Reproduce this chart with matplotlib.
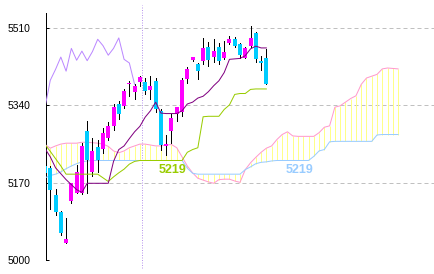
import matplotlib
matplotlib.use('Agg')
import matplotlib.pyplot as plt

# daily candles
opens = [5206, 5203, 5144, 5106, 5038, 5131, 5147, 5147, 5284, 5193,
         5248, 5245, 5269, 5295, 5342, 5338, 5386, 5369, 5391, 5391,
         5373, 5393, 5328, 5250, 5284, 5322, 5325, 5397, 5439, 5430,
         5437, 5468, 5447, 5468, 5443, 5476, 5485, 5474, 5444, 5470,
         5499, 5438, 5443]
highs = [5209, 5207, 5157, 5108, 5093, 5170, 5210, 5258, 5305, 5269,
         5265, 5291, 5304, 5342, 5349, 5375, 5394, 5386, 5405, 5401,
         5405, 5401, 5331, 5276, 5320, 5337, 5399, 5425, 5447, 5434,
         5488, 5478, 5485, 5477, 5481, 5492, 5491, 5476, 5469, 5514,
         5502, 5448, 5463]
lows = [5187, 5113, 5100, 5056, 5038, 5126, 5147, 5146, 5148, 5184,
        5193, 5236, 5265, 5287, 5309, 5335, 5361, 5353, 5382, 5366,
        5353, 5326, 5243, 5232, 5258, 5305, 5317, 5390, 5438, 5397,
        5430, 5426, 5435, 5430, 5441, 5474, 5469, 5445, 5444, 5467,
        5436, 5417, 5386]
closes = [5191, 5155, 5107, 5060, 5047, 5169, 5194, 5251, 5221, 5239,
          5219, 5280, 5295, 5336, 5322, 5371, 5389, 5382, 5402, 5371,
          5382, 5331, 5254, 5256, 5313, 5336, 5395, 5419, 5446, 5415,
          5465, 5439, 5459, 5438, 5458, 5485, 5471, 5450, 5465, 5488,
          5441, 5433, 5386]

# ichimoku lines
tenkan = [5245, 5227, 5203, 5190, 5177, 5166, 5155, 5149, 5169, 5169,
          5169, 5169, 5169, 5217, 5243, 5251, 5267, 5282, 5294, 5314,
          5328, 5347, 5323, 5322, 5322, 5322, 5328, 5343, 5347, 5356,
          5360, 5370, 5383, 5394, 5412, 5441, 5442, 5443, 5449, 5464,
          5470, 5466, 5466]
kijun = [5254, 5239, 5223, 5207, 5189, 5189, 5189, 5189, 5189, 5189,
         5189, 5181, 5173, 5183, 5192, 5200, 5211, 5217, 5219, 5219,
         5219, 5219, 5219, 5219, 5219, 5219, 5219, 5237, 5243, 5247,
         5315, 5316, 5316, 5316, 5331, 5341, 5364, 5366, 5366, 5375,
         5376, 5376, 5376]
span_a = [5254, 5246, 5251, 5255, 5257, 5257, 5257, 5259, 5259, 5258,
          5257, 5255, 5250, 5240, 5236, 5240, 5247, 5251, 5255, 5255,
          5253, 5251, 5251, 5253, 5254, 5247, 5227, 5207, 5192, 5180,
          5176, 5172, 5169, 5177, 5178, 5178, 5174, 5171, 5199, 5214,
          5226, 5237, 5246, 5251, 5265, 5276, 5282, 5273, 5272, 5272,
          5272, 5272, 5280, 5292, 5295, 5336, 5339, 5347, 5355, 5361,
          5386, 5400, 5404, 5408, 5420, 5422, 5421, 5420]
span_b = [5181, 5186, 5189, 5194, 5201, 5207, 5212, 5216, 5218, 5219,
          5219, 5219, 5219, 5219, 5219, 5219, 5219, 5219, 5219, 5219,
          5219, 5219, 5219, 5219, 5219, 5219, 5219, 5202, 5191, 5189,
          5189, 5189, 5189, 5189, 5189, 5189, 5189, 5189, 5199, 5205,
          5212, 5215, 5216, 5218, 5219, 5219, 5219, 5219, 5219, 5219,
          5219, 5228, 5240, 5243, 5260, 5261, 5261, 5261, 5261, 5261,
          5261, 5261, 5261, 5275, 5276, 5276, 5276, 5276]
CHIKOU_SHIFT = 25

y_ticks = [5000, 5170, 5340, 5510]
kijun_label = '5219'
span_b_label = '5219'
month_break = 18.4

UP = '#ff00ff'
DOWN = '#00ccff'
LW = 0.72  # one pixel

fig = plt.figure(figsize=(4.35, 2.74), dpi=100)
ax = fig.add_axes([45.7 / 435, 13.7 / 274, 389.3 / 435, 247 / 274])
ax.set_xlim(0.13, 74.0)
ax.set_ylim(5000, 5542)

# grid
for v in y_ticks:
    ax.axhline(v, color='#c0c0c0', lw=LW, ls=(0, (4, 3)), zorder=1)

# cloud: yellow vertical strokes between the two spans
xs = list(range(len(span_a)))
ax.vlines(xs, span_a, span_b, color='#ffff88', lw=LW, zorder=2)
ax.plot(xs, span_a, color='#ff99cc', lw=LW, zorder=3)
ax.plot(xs, span_b, color='#99ccff', lw=LW, zorder=3)

ax.axvline(month_break, ymin=-0.03, ymax=1.035, color='#bb99ee', lw=LW,
           ls=(0, (1, 1.5)), clip_on=False, zorder=2)

# candles
n = len(closes)
idx = list(range(n))
ax.vlines(idx, lows, highs, color='black', lw=LW, zorder=4,
          antialiased=False)
body_col = [UP if c >= o else DOWN for o, c in zip(opens, closes)]
ax.bar(idx, [c - o for o, c in zip(opens, closes)], bottom=opens,
       width=0.76, color=body_col, lw=0, zorder=5, antialiased=False)

# lines
chikou = closes[CHIKOU_SHIFT:]
ax.plot(range(len(chikou)), chikou, color='#bb88ff', lw=LW, zorder=6)
ax.plot(idx, kijun, color='#99cc00', lw=LW, zorder=6)
ax.plot(idx, tenkan, color='#800080', lw=LW, zorder=6)

ax.text(24.2, 5198, kijun_label, color='#99cc00', fontsize=9,
        fontweight='bold', family='Liberation Sans', ha='center', va='center')
ax.text(48.2, 5198, span_b_label, color='#99ccff', fontsize=9,
        fontweight='bold', family='Liberation Sans', ha='center', va='center')

for s in ['top', 'right', 'bottom']:
    ax.spines[s].set_visible(False)
ax.spines['left'].set_linewidth(LW)
ax.set_xticks([])
ax.set_yticks(y_ticks)
ax.tick_params(axis='y', direction='in', length=2.5, width=LW, pad=11,
               labelsize=7.4)
for t in ax.get_yticklabels():
    t.set_family('Liberation Sans')

fig.savefig('out.png', dpi=100)
